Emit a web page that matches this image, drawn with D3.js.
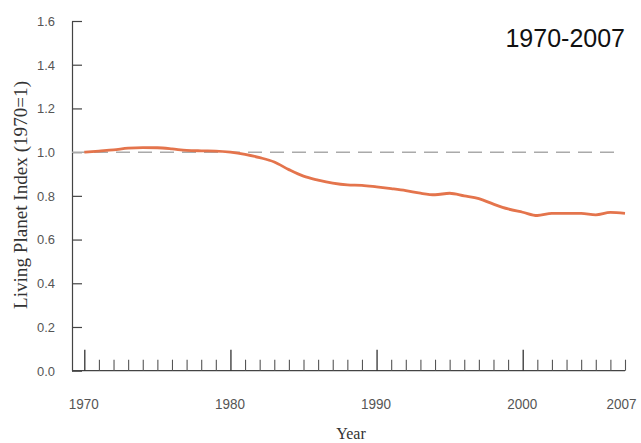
<!DOCTYPE html>
<html>
<head>
<meta charset="utf-8">
<script src="https://cdn.jsdelivr.net/npm/d3@7"></script>
<style>
  html, body { margin: 0; padding: 0; background: #fff; }
  svg { display: block; }
</style>
</head>
<body>
<svg id="chart" width="641" height="443"></svg>
<script>
const years = d3.range(1970, 2008);
const lpiValues = [
  1.000, 1.005, 1.010, 1.018, 1.021, 1.020, 1.015, 1.008, 1.006, 1.005,
  1.000, 0.990, 0.975, 0.955, 0.920, 0.890, 0.872, 0.858, 0.850, 0.848,
  0.841, 0.833, 0.824, 0.812, 0.805, 0.812, 0.800, 0.787, 0.762, 0.740,
  0.725, 0.710, 0.720, 0.720, 0.720, 0.713, 0.724, 0.720
];
const yTicks = [0.0, 0.2, 0.4, 0.6, 0.8, 1.0, 1.2, 1.4, 1.6];
const xLabelYears = [1970, 1980, 1990, 2000, 2007];
const xMajorYears = [1970, 1980, 1990, 2000];
const referenceValue = 1.0;
const titleText = "1970-2007";
const xTitle = "Year";
const yTitle = "Living Planet Index (1970=1)";

const svg = d3.select("#chart");
const axisLeftX = 72;
const axisRightX = 625;

const x = d3.scaleLinear().domain([1970, 2007]).range([84.3, 625]);
const y = d3.scaleLinear().domain([0, 1.6]).range([370.7, 21]);

// Y axis
const yAxis = d3.axisLeft(y)
  .tickValues(yTicks)
  .tickFormat(d3.format(".1f"))
  .tickSizeInner(-10)
  .tickSizeOuter(0)
  .tickPadding(17);
const gy = svg.append("g").attr("transform", `translate(${axisLeftX},0)`).call(yAxis);
gy.select(".domain").attr("stroke", "#444").attr("stroke-width", 1.2);
gy.selectAll(".tick line").attr("stroke", "#444").attr("stroke-width", 1.2);
gy.selectAll(".tick text")
  .attr("fill", "#555")
  .attr("textLength", 18)
  .attr("lengthAdjust", "spacingAndGlyphs")
  .style("font-family", "Arial, 'Liberation Sans', sans-serif")
  .style("font-size", "13.5px");

// X axis baseline
const baselineY = y(0);
svg.append("line")
  .attr("x1", axisLeftX).attr("x2", axisRightX)
  .attr("y1", baselineY).attr("y2", baselineY)
  .attr("stroke", "#444").attr("stroke-width", 1.2);

// minor ticks
const minorAxis = d3.axisBottom(x)
  .tickValues(years.filter(d => !xMajorYears.includes(d)))
  .tickSizeInner(-11).tickSizeOuter(0).tickFormat("");
const gMinor = svg.append("g").attr("transform", `translate(0,${baselineY})`).call(minorAxis);
gMinor.select(".domain").remove();
gMinor.selectAll(".tick line").attr("stroke", "#555").attr("stroke-width", 1.1);

// major ticks
const majorAxis = d3.axisBottom(x)
  .tickValues(xMajorYears)
  .tickSizeInner(-21).tickSizeOuter(0).tickFormat("");
const gMajor = svg.append("g").attr("transform", `translate(0,${baselineY})`).call(majorAxis);
gMajor.select(".domain").remove();
gMajor.selectAll(".tick line").attr("stroke", "#333").attr("stroke-width", 1.3);

// labels
const labelAxis = d3.axisBottom(x)
  .tickValues(xLabelYears)
  .tickSize(0).tickPadding(27).tickFormat(d3.format("d"));
const gLab = svg.append("g").attr("transform", `translate(0,${baselineY})`).call(labelAxis);
gLab.select(".domain").remove();
gLab.selectAll(".tick text")
  .attr("fill", "#555")
  .attr("textLength", 30)
  .attr("lengthAdjust", "spacingAndGlyphs")
  .attr("dx", d => d === 2007 ? -4 : -1)
  .style("font-family", "Arial, 'Liberation Sans', sans-serif")
  .style("font-size", "15.5px");

// reference dashed line
svg.append("line")
  .attr("x1", axisLeftX).attr("x2", 622)
  .attr("y1", y(referenceValue)).attr("y2", y(referenceValue))
  .attr("stroke", "#aaa").attr("stroke-width", 1.5)
  .attr("stroke-dasharray", "14,8");

// data line
const line = d3.line()
  .x((d, i) => x(years[i]))
  .y(d => y(d))
  .curve(d3.curveMonotoneX);
svg.append("path")
  .datum(lpiValues)
  .attr("fill", "none")
  .attr("stroke", "#e4744c")
  .attr("stroke-width", 2.8)
  .attr("stroke-linejoin", "round")
  .attr("d", line);

// title
svg.append("text")
  .attr("x", 625).attr("y", 46.5)
  .attr("text-anchor", "end")
  .style("font-family", "Arial, 'Liberation Sans', sans-serif")
  .style("font-size", "25px")
  .attr("fill", "#111")
  .text(titleText);

// axis titles
svg.append("text")
  .attr("x", 351).attr("y", 439)
  .attr("text-anchor", "middle")
  .style("font-family", "'Times New Roman', 'Liberation Serif', serif")
  .style("font-size", "16px")
  .attr("fill", "#333")
  .text(xTitle);

svg.append("text")
  .attr("transform", "translate(27,195) rotate(-90)")
  .attr("text-anchor", "middle")
  .attr("textLength", 228)
  .attr("lengthAdjust", "spacingAndGlyphs")
  .style("font-family", "'Times New Roman', 'Liberation Serif', serif")
  .style("font-size", "18.5px")
  .attr("fill", "#333")
  .text(yTitle);
</script>
</body>
</html>
